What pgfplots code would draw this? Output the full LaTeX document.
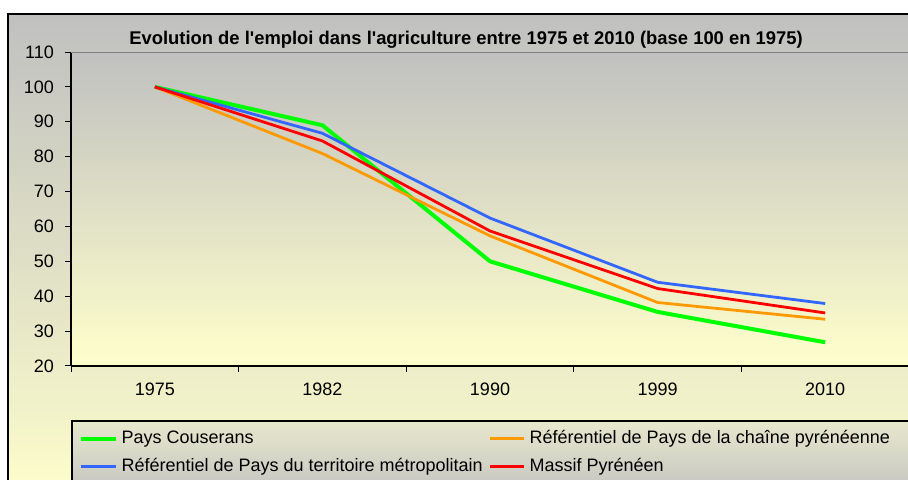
\documentclass[border=0pt]{standalone}
\usepackage{fontspec}
\setmainfont{Liberation Sans}[Ligatures=TeXOff]
\usepackage{pgfplots}
\pgfplotsset{compat=1.18}
\definecolor{cgreen}{RGB}{0,255,0}
\definecolor{corange}{RGB}{255,153,0}
\definecolor{cblue}{RGB}{51,102,255}
\definecolor{cred}{RGB}{255,0,0}
\definecolor{bggray}{RGB}{192,192,192}
\definecolor{bgyellow}{RGB}{255,255,204}
\definecolor{lgtop}{RGB}{232,232,205}
\begin{document}
\begin{tikzpicture}
\useasboundingbox (0,0) rectangle (454pt,240pt);
\begin{scope}
\clip (0,0) rectangle (454pt,240pt);
\shade[top color=bggray, bottom color=bgyellow] (4pt,233pt) rectangle (470pt,-15pt);
\draw[line width=1pt] (4pt,-20pt) -- (4pt,233pt) -- (470pt,233pt);
\shade[top color=lgtop, bottom color=bggray] (36pt,29.5pt) rectangle (470pt,-10pt);
\draw[line width=0.6pt] (36pt,-20pt) -- (36pt,29.5pt) -- (470pt,29.5pt);
\node[font=\fontsize{9.2}{11}\selectfont\bfseries] at (233pt,220pt) {Evolution de l'emploi dans l'agriculture entre 1975 et 2010 (base 100 en 1975)};
\begin{axis}[
  at={(35.5pt,57pt)}, anchor=south west,
  scale only axis, width=419pt, height=157pt,
  xmin=-0.5, xmax=4.5, ymin=20, ymax=110,
  axis background/.style={shade, top color=bggray, bottom color=bgyellow},
  axis x line*=bottom, axis y line*=left,
  axis line style={-, line width=0.6pt},
  tick align=outside, major tick length=3pt,
  tick style={black, line width=0.5pt},
  xtick={-0.5,0.5,1.5,2.5,3.5,4.5}, xticklabels={},
  extra x ticks={0,1,2,3,4},
  extra x tick labels={1975,1982,1990,1999,2010},
  extra x tick style={major tick length=0pt, tick label style={yshift=-5pt}},
  ytick={20,30,...,110},
  yticklabel style={xshift=-2pt},
  tick label style={font=\fontsize{9}{11}\selectfont},
  /pgf/number format/assume math mode=true,
  legend columns=2,
  legend cell align=left,
  legend style={draw=none, fill=none, at={(0.0024,-0.178)}, anchor=north west,
    font=\fontsize{9}{11}\selectfont,
    nodes={text height=6.5pt, text depth=2pt},
    row sep=1.5pt,
    /tikz/every even column/.append style={column sep=1pt}},
]
\draw[gray, line width=0.6pt] (rel axis cs:0,1) -- (rel axis cs:1,1);
\addplot[cgreen, line width=2pt] coordinates {(0,100) (1,89.0) (2,50.0) (3,35.5) (4,26.8)};
\addlegendentry{Pays Couserans}
\addplot[corange, line width=1.4pt] coordinates {(0,100) (1,80.9) (2,57.3) (3,38.2) (4,33.4)};
\addlegendentry{Référentiel de Pays de la chaîne pyrénéenne}
\addplot[cblue, line width=1.4pt] coordinates {(0,100) (1,86.7) (2,62.4) (3,44.0) (4,37.9)};
\addlegendentry{Référentiel de Pays du territoire métropolitain}
\addplot[cred, line width=1.4pt] coordinates {(0,100) (1,84.5) (2,58.7) (3,42.2) (4,35.2)};
\addlegendentry{Massif Pyrénéen}
\end{axis}
\end{scope}
\end{tikzpicture}
\end{document}
